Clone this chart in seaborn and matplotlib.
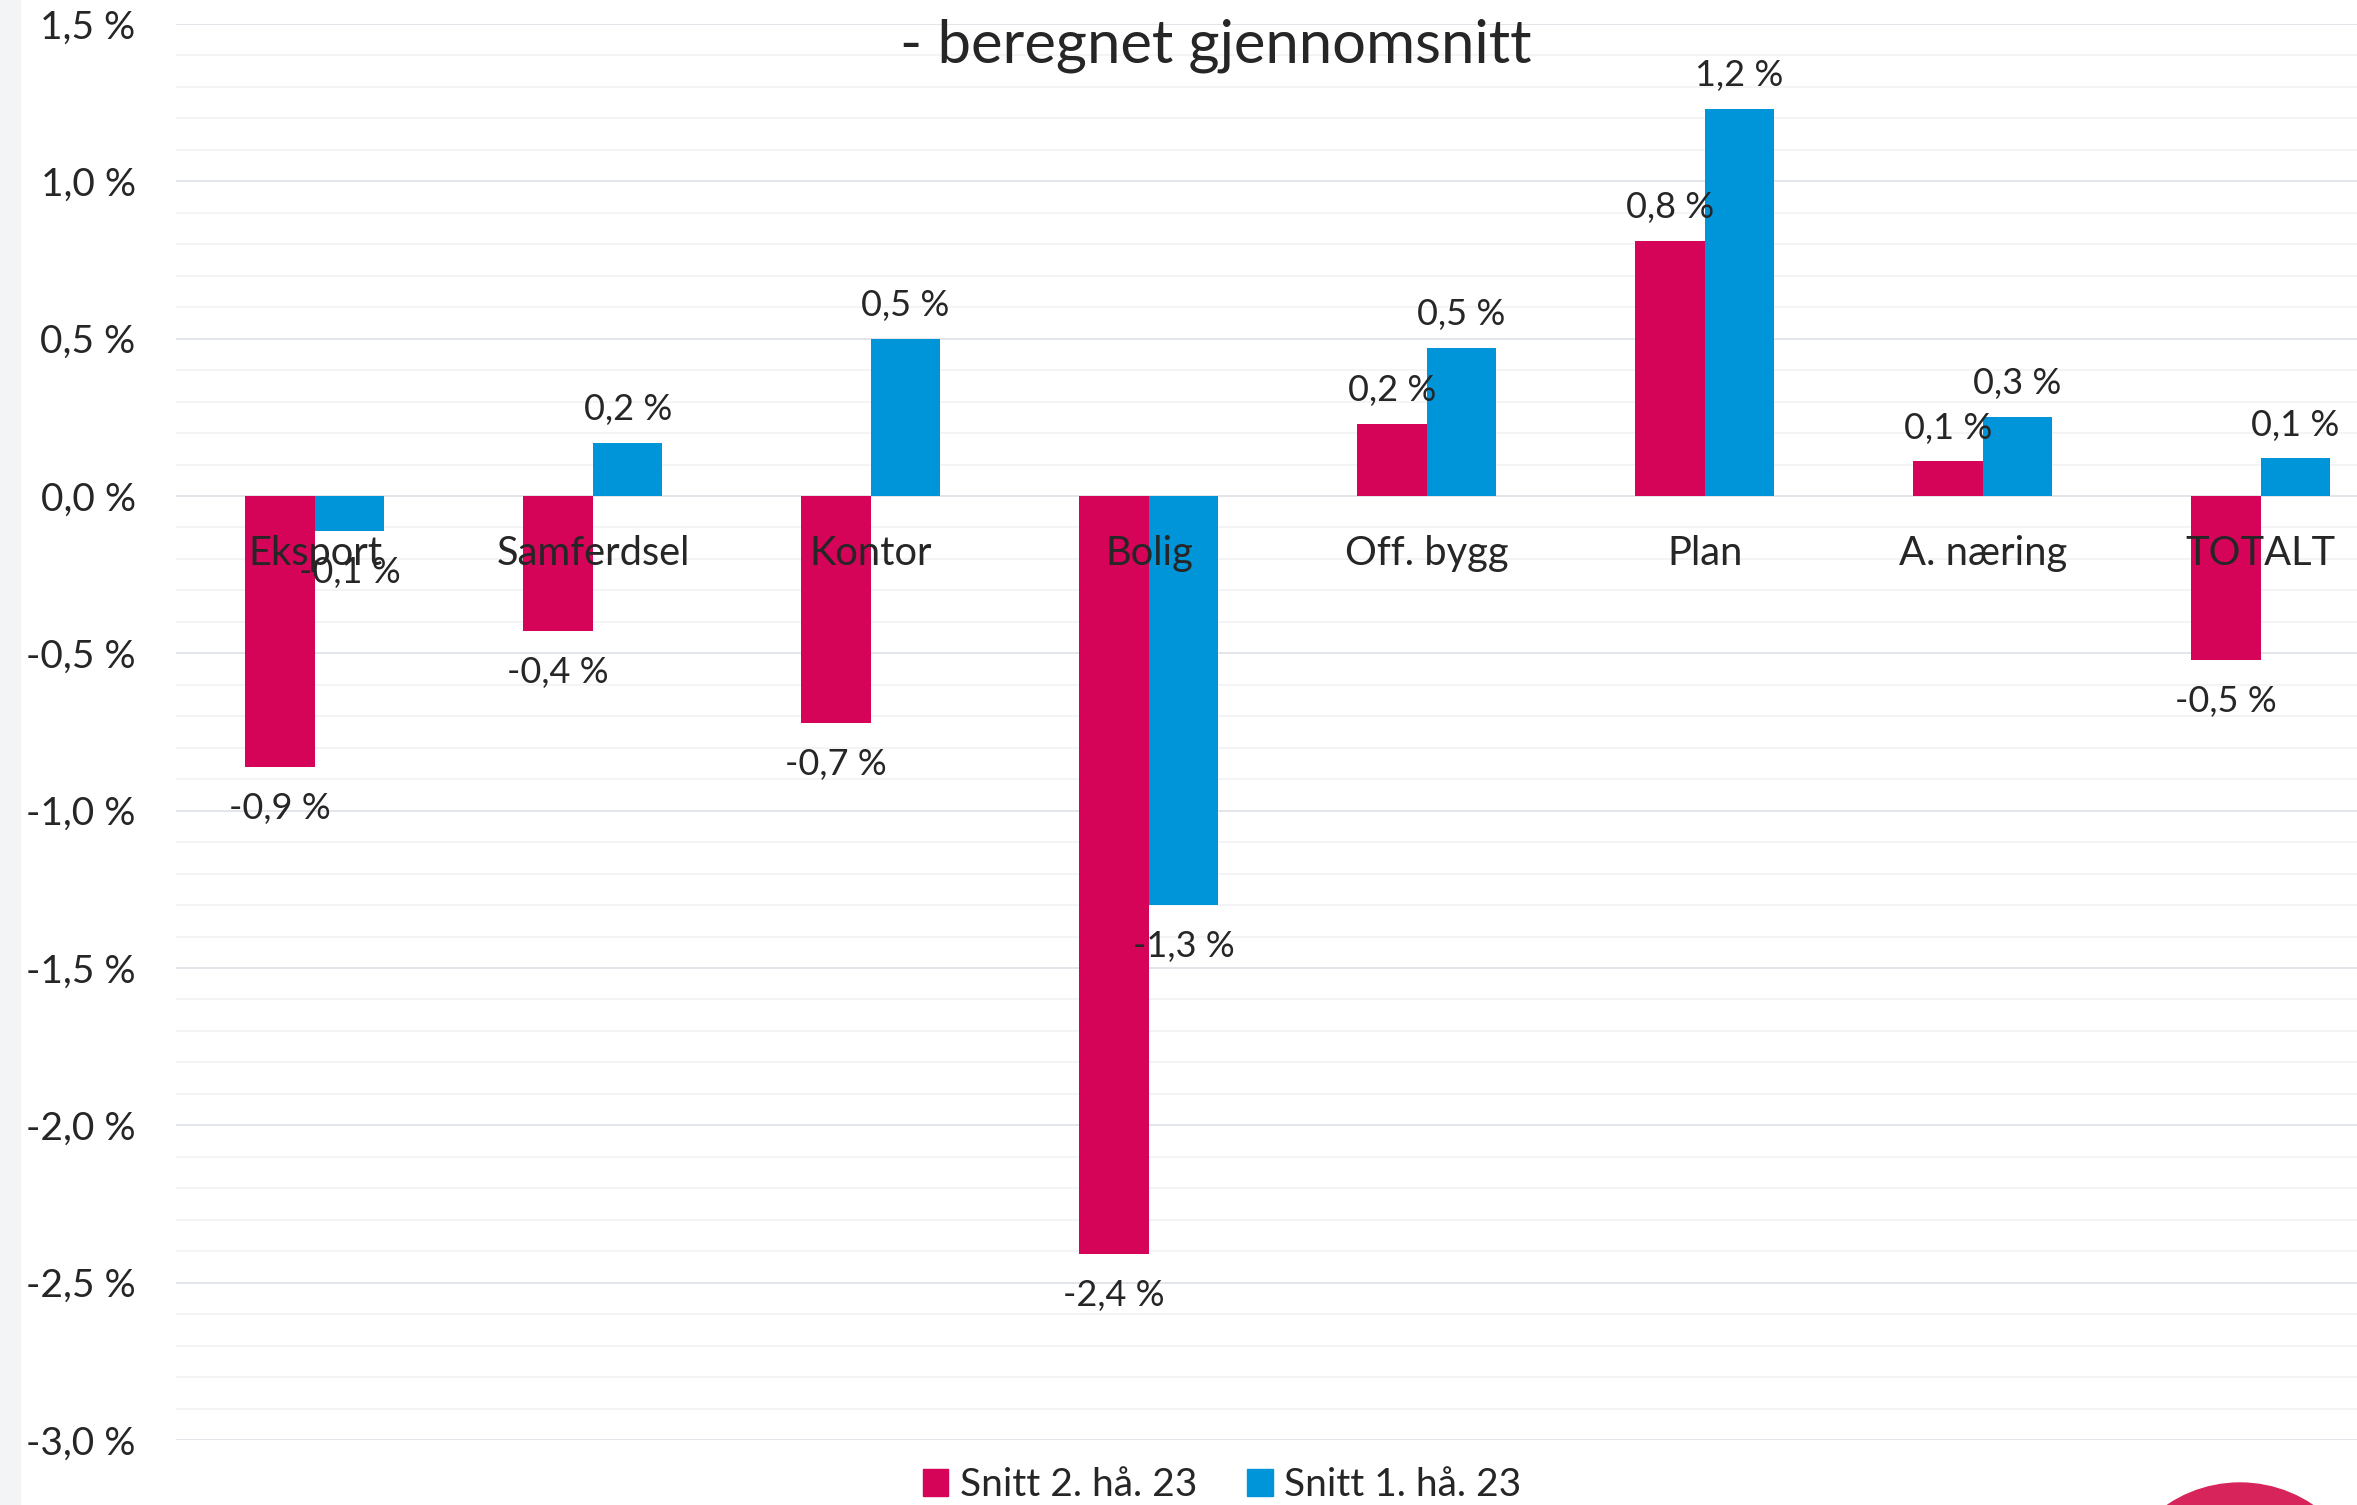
import numpy as np
import pandas as pd
import matplotlib.pyplot as plt
import seaborn as sns
from matplotlib.patches import Circle, Rectangle, Patch

# data
categories = ['Eksport', 'Samferdsel', 'Kontor', 'Bolig', 'Off. bygg', 'Plan', 'A. næring', 'TOTALT']
series_names = ['Snitt 2. hå. 23', 'Snitt 1. hå. 23']
snitt_2_ha_23 = [-0.86, -0.43, -0.72, -2.41, 0.23, 0.81, 0.11, -0.52]
snitt_1_ha_23 = [-0.11, 0.17, 0.50, -1.30, 0.47, 1.23, 0.252, 0.12]
y_ticks = [1.5, 1.0, 0.5, 0.0, -0.5, -1.0, -1.5, -2.0, -2.5, -3.0]
title = '- beregnet gjennomsnitt'

colors = {'Snitt 2. hå. 23': '#D60459', 'Snitt 1. hå. 23': '#0094D8'}


def pct(v):
    return f'{v:.1f} %'.replace('.', ',')


df = pd.DataFrame({
    'kategori': categories * 2,
    'periode': [series_names[0]] * len(categories) + [series_names[1]] * len(categories),
    'verdi': snitt_2_ha_23 + snitt_1_ha_23,
})

sns.set_theme(style='white')
plt.rcParams['font.family'] = ['Lato', 'DejaVu Sans']

W, H = 2357, 1505
fig = plt.figure(figsize=(W / 100, H / 100), dpi=100)
ax = fig.add_axes([176 / W, 65 / H, 1 - 176 / W, (1440 - 24) / H])

sns.barplot(data=df, x='kategori', y='verdi', hue='periode', hue_order=series_names,
            order=categories, palette=colors, width=0.5, saturation=1,
            linewidth=0, legend=False, ax=ax)

ax.set_ylim(-3.0, 1.5)
ax.set_xlim(-0.5, 7.346)
ax.set_yticks(y_ticks)
ax.set_yticklabels([pct(t) for t in y_ticks], fontsize=28)
ax.set_yticks(np.round(np.arange(-3.0, 1.51, 0.1), 1), minor=True)
ax.grid(which='major', axis='y', color='#DDE1E6', lw=1.2)
ax.grid(which='minor', axis='y', color='#F1F2F3', lw=1.2)
ax.set_axisbelow(True)
ax.tick_params(which='both', length=0)
ax.tick_params(axis='y', pad=29)
ax.tick_params(axis='x', labelbottom=False)
ax.set_xlabel('')
ax.set_ylabel('')
for s in ax.spines.values():
    s.set_visible(False)

# category names sit just under the zero line, on top of the bars
for i, cat in enumerate(categories):
    ax.text(i, -0.182, cat, ha='center', va='center', fontsize=28.7, zorder=6)

# value labels, a bit further out for the negative bars
for cont, vals in zip(ax.containers, [snitt_2_ha_23, snitt_1_ha_23]):
    pos = [pct(v) if v >= 0 else '' for v in vals]
    neg = [pct(v) if v < 0 else '' for v in vals]
    anns = ax.bar_label(cont, labels=pos, padding=12, fontsize=26)
    anns += ax.bar_label(cont, labels=neg, padding=18, fontsize=26)
    for a in anns:
        a.set_zorder(6)

handles = [Patch(color=colors[n]) for n in series_names]
fig.legend(handles, series_names, loc='center', bbox_to_anchor=(1222 / W, 20 / H),
           ncol=2, frameon=False, fontsize=28, handlelength=0.65, handleheight=0.7,
           columnspacing=1.3, handletextpad=0.3)

fig.text(1216 / W, 1 - 46 / H, title, ha='center', va='center', fontsize=43)

# slide leftovers: grey strip on the left and the pink circle bottom right
fig.patches.append(Rectangle((0, 0), 20 / W, 1, transform=fig.transFigure,
                             color='#F3F4F6', zorder=0))
fig.patches.append(Circle((22.40, -1.08), 1.30, transform=fig.dpi_scale_trans,
                          color='#D7245A'))

fig.savefig('out.png', dpi=100)
